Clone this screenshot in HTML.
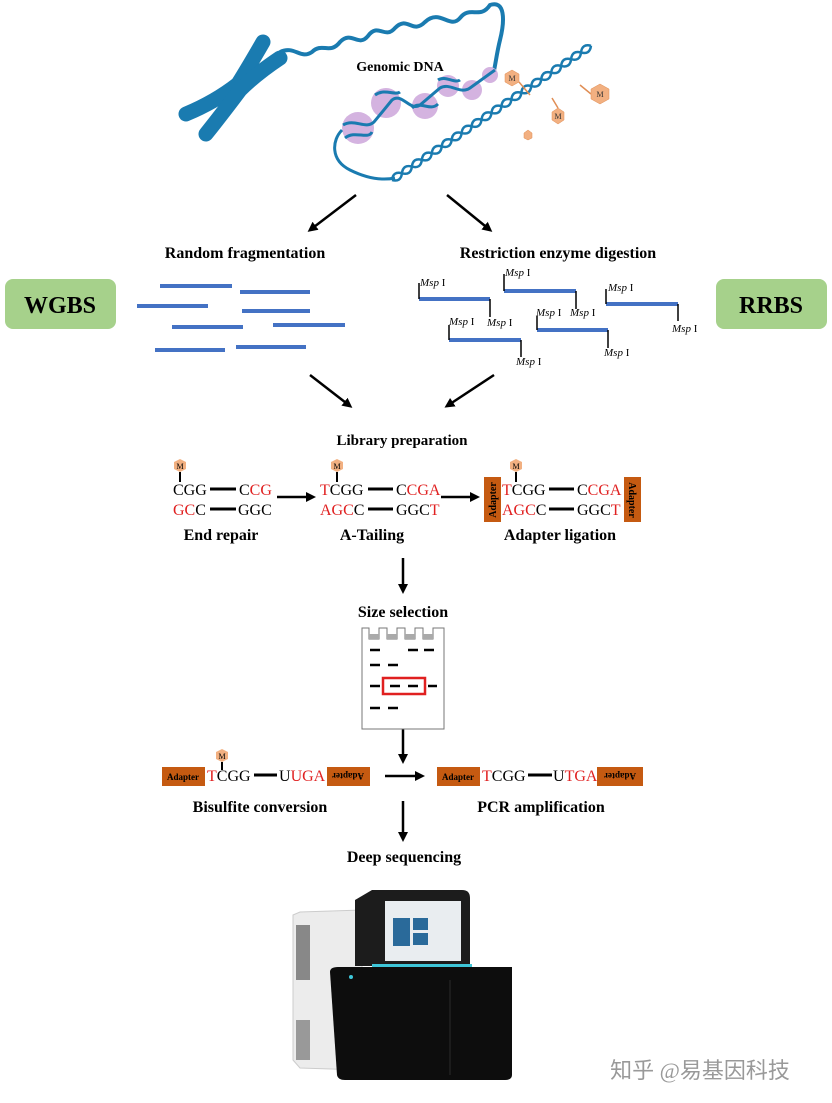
<!DOCTYPE html>
<html><head><meta charset="utf-8"><style>
html,body{margin:0;padding:0;background:#fff;}
svg{display:block;}
text{font-family:"Liberation Serif",serif;}
.b{font-weight:bold;}
</style></head><body>
<svg width="832" height="1103" viewBox="0 0 832 1103" xmlns="http://www.w3.org/2000/svg">
<defs>
<marker id="ah" markerWidth="10" markerHeight="10" refX="7" refY="5" orient="auto" markerUnits="userSpaceOnUse"><path d="M0,0 L10,5 L0,10 Z" fill="#000"/></marker>
</defs>
<!-- chromosome -->
<g fill="none" stroke="#1a7bb0" stroke-linecap="round">
<path d="M263,42 Q248,68 238,84 Q215,102 186,114" stroke-width="15"/>
<path d="M280,58 Q256,74 240,90 Q222,114 206,134" stroke-width="15"/>
</g>
<!-- DNA fiber -->
<path d="M280,52 C295,45 300,60 312,52 C322,42 330,55 340,42 C352,30 358,48 368,36 C378,22 385,40 395,28 C408,15 412,35 425,22 C440,8 450,30 460,18 C470,5 480,20 490,5 C505,0 505,20 500,40 C495,60 495,75 490,80" fill="none" stroke="#1a7bb0" stroke-width="4"/>
<!-- nucleosomes -->
<g fill="#d4b3e0">
<circle cx="358" cy="128" r="16"/><circle cx="386" cy="103" r="15"/><circle cx="425" cy="106" r="13"/>
<circle cx="448" cy="86" r="11"/><circle cx="472" cy="90" r="10"/><circle cx="490" cy="75" r="8"/>
</g>
<g fill="none" stroke="#1a7bb0" stroke-width="3">
<path d="M343,125 C355,118 365,130 374,122 L392,100 C402,92 410,112 420,105 L440,88 C450,82 460,95 470,88 L495,70"/>
<path d="M345,138 C355,130 368,140 372,132 M375,95 C385,88 395,96 400,92 M412,108 C420,100 430,112 438,104 M438,80 C445,75 455,84 460,80"/>
<path d="M342,130 C332,140 330,160 350,170 C370,180 385,180 395,178"/>
</g>
<!-- double helix -->
<g fill="none" stroke="#1a7bb0" stroke-width="2.5" transform="translate(392,180) rotate(-34)">
<path d="M0,0 Q6,-7 12,0 T24,0 T36,0 T48,0 T60,0 T72,0 T84,0 T96,0 T108,0 T120,0 T132,0 T144,0 T156,0 T168,0 T180,0 T192,0 T204,0 T216,0 T228,0 T240,0"/>
<path d="M0,0 Q6,7 12,0 T24,0 T36,0 T48,0 T60,0 T72,0 T84,0 T96,0 T108,0 T120,0 T132,0 T144,0 T156,0 T168,0 T180,0 T192,0 T204,0 T216,0 T228,0 T240,0"/>
</g>
<g stroke="#e08e55" stroke-width="1.5"><line x1="519" y1="82" x2="530" y2="95"/><line x1="591" y1="94" x2="580" y2="85"/><line x1="558" y1="108" x2="552" y2="98"/></g>
<g fill="#f2b081" stroke="#e08e55" stroke-width="0.5">
<polygon points="512,70 519,74 519,82 512,86 505,82 505,74"/>
<polygon points="600,84 609,89 609,99 600,104 591,99 591,89"/>
<polygon points="558,108 564,112 564,120 558,124 552,120 552,112"/>
<polygon points="528,130 532,133 532,138 528,140 524,138 524,133"/>
</g>
<g font-size="8" fill="#333" text-anchor="middle"><text x="512" y="81">M</text><text x="600" y="97">M</text><text x="558" y="119">M</text></g>
<text x="400" y="71" class="b" font-size="14" text-anchor="middle">Genomic DNA</text>
<!-- arrows -->
<g stroke="#000" stroke-width="2.5" marker-end="url(#ah)">
<line x1="356" y1="195" x2="310" y2="230"/><line x1="447" y1="195" x2="490" y2="230"/>
<line x1="310" y1="375" x2="350" y2="406"/><line x1="494" y1="375" x2="447" y2="406"/>
<line x1="277" y1="497" x2="313" y2="497"/><line x1="441" y1="497" x2="477" y2="497"/>
<line x1="403" y1="558" x2="403" y2="591"/><line x1="403" y1="697" x2="403" y2="761"/>
<line x1="385" y1="776" x2="422" y2="776"/><line x1="403" y1="801" x2="403" y2="839"/>
</g>
<text x="245" y="258" class="b" font-size="16" text-anchor="middle">Random fragmentation</text>
<text x="558" y="258" class="b" font-size="16" text-anchor="middle">Restriction enzyme digestion</text>
<!-- WGBS / RRBS -->
<rect x="5" y="279" width="111" height="50" rx="8" fill="#a6d18b"/>
<rect x="716" y="279" width="111" height="50" rx="8" fill="#a6d18b"/>
<text x="60" y="313" class="b" font-size="24" text-anchor="middle">WGBS</text>
<text x="771" y="313" class="b" font-size="24" text-anchor="middle">RRBS</text>
<!-- random fragments -->
<g stroke="#4472c4" stroke-width="4">
<line x1="160" y1="286" x2="232" y2="286"/><line x1="240" y1="292" x2="310" y2="292"/>
<line x1="137" y1="306" x2="208" y2="306"/><line x1="242" y1="311" x2="310" y2="311"/>
<line x1="172" y1="327" x2="243" y2="327"/><line x1="273" y1="325" x2="345" y2="325"/>
<line x1="155" y1="350" x2="225" y2="350"/><line x1="236" y1="347" x2="306" y2="347"/>
</g>
<!-- Msp fragments -->
<g stroke="#4472c4" stroke-width="4">
<line x1="419" y1="299" x2="490" y2="299"/><line x1="504" y1="291" x2="576" y2="291"/>
<line x1="606" y1="304" x2="678" y2="304"/><line x1="449" y1="340" x2="521" y2="340"/>
<line x1="537" y1="330" x2="608" y2="330"/>
</g>
<g stroke="#000" stroke-width="1.5">
<line x1="419" y1="283" x2="419" y2="299"/><line x1="490" y1="299" x2="490" y2="317"/>
<line x1="504" y1="274" x2="504" y2="291"/><line x1="576" y1="291" x2="576" y2="309"/>
<line x1="606" y1="289" x2="606" y2="304"/><line x1="678" y1="304" x2="678" y2="321"/>
<line x1="449" y1="325" x2="449" y2="340"/><line x1="521" y1="340" x2="521" y2="357"/>
<line x1="537" y1="316" x2="537" y2="330"/><line x1="608" y1="330" x2="608" y2="348"/>
</g>
<g font-size="11">
<text x="420" y="286"><tspan font-style="italic">Msp</tspan> I</text>
<text x="505" y="276"><tspan font-style="italic">Msp</tspan> I</text>
<text x="608" y="291"><tspan font-style="italic">Msp</tspan> I</text>
<text x="449" y="325"><tspan font-style="italic">Msp</tspan> I</text>
<text x="487" y="326"><tspan font-style="italic">Msp</tspan> I</text>
<text x="536" y="316"><tspan font-style="italic">Msp</tspan> I</text>
<text x="570" y="316"><tspan font-style="italic">Msp</tspan> I</text>
<text x="672" y="332"><tspan font-style="italic">Msp</tspan> I</text>
<text x="604" y="356"><tspan font-style="italic">Msp</tspan> I</text>
<text x="516" y="365"><tspan font-style="italic">Msp</tspan> I</text>
</g>
<text x="402" y="445" class="b" font-size="15" text-anchor="middle">Library preparation</text>
<!-- library prep -->
<g fill="#f2b081">
<polygon points="180,459 186,462 186,469 180,472 174,469 174,462"/>
<polygon points="337,459 343,462 343,469 337,472 331,469 331,462"/>
<polygon points="516,459 522,462 522,469 516,472 510,469 510,462"/>
</g>
<g font-size="8" text-anchor="middle"><text x="180" y="469">M</text><text x="337" y="469">M</text><text x="516" y="469">M</text></g>
<g stroke="#000" stroke-width="2">
<line x1="180" y1="472" x2="180" y2="482"/><line x1="337" y1="472" x2="337" y2="482"/><line x1="516" y1="472" x2="516" y2="482"/>
</g>
<g stroke="#000" stroke-width="3">
<line x1="210" y1="489" x2="236" y2="489"/><line x1="210" y1="509" x2="236" y2="509"/>
<line x1="368" y1="489" x2="393" y2="489"/><line x1="368" y1="509" x2="393" y2="509"/>
<line x1="549" y1="489" x2="574" y2="489"/><line x1="549" y1="509" x2="574" y2="509"/>
</g>
<g font-size="16">
<text x="173" y="495">CGG</text><text x="239" y="495">C<tspan fill="#e02020">CG</tspan></text>
<text x="173" y="515"><tspan fill="#e02020">GC</tspan>C</text><text x="238" y="515">GGC</text>
<text x="320" y="495"><tspan fill="#e02020">T</tspan>CGG</text><text x="396" y="495">C<tspan fill="#e02020">CGA</tspan></text>
<text x="320" y="515"><tspan fill="#e02020">AGC</tspan>C</text><text x="396" y="515">GGC<tspan fill="#e02020">T</tspan></text>
<text x="502" y="495"><tspan fill="#e02020">T</tspan>CGG</text><text x="577" y="495">C<tspan fill="#e02020">CGA</tspan></text>
<text x="502" y="515"><tspan fill="#e02020">AGC</tspan>C</text><text x="577" y="515">GGC<tspan fill="#e02020">T</tspan></text>
</g>
<rect x="484" y="477" width="17" height="45" fill="#c55a11"/>
<rect x="624" y="477" width="17" height="45" fill="#c55a11"/>
<text transform="translate(496,500) rotate(-90)" font-size="10" class="b" text-anchor="middle">Adapter</text>
<text transform="translate(629,500) rotate(90)" font-size="10" class="b" text-anchor="middle">Adapter</text>
<g class="b" font-size="16" text-anchor="middle">
<text x="221" y="540">End repair</text><text x="372" y="540">A-Tailing</text><text x="560" y="540">Adapter ligation</text>
<text x="403" y="617">Size selection</text>
<text x="260" y="812">Bisulfite conversion</text><text x="541" y="812">PCR amplification</text>
<text x="404" y="862">Deep sequencing</text>
</g>
<!-- gel -->
<path d="M362,729 L362,628 L369,628 L369,639 L379,639 L379,628 L387,628 L387,639 L397,639 L397,628 L405,628 L405,639 L415,639 L415,628 L423,628 L423,639 L433,639 L433,628 L444,628 L444,729 Z" fill="#fff" stroke="#777" stroke-width="1"/>
<g fill="#aaa"><rect x="369" y="634" width="10" height="5"/><rect x="387" y="634" width="10" height="5"/><rect x="405" y="634" width="10" height="5"/><rect x="423" y="634" width="10" height="5"/></g>
<g stroke="#000" stroke-width="2.5">
<line x1="370" y1="650" x2="380" y2="650"/><line x1="408" y1="650" x2="418" y2="650"/><line x1="424" y1="650" x2="434" y2="650"/>
<line x1="370" y1="665" x2="380" y2="665"/><line x1="388" y1="665" x2="398" y2="665"/>
<line x1="370" y1="686" x2="380" y2="686"/><line x1="390" y1="686" x2="400" y2="686"/><line x1="408" y1="686" x2="418" y2="686"/><line x1="428" y1="686" x2="437" y2="686"/>
<line x1="370" y1="708" x2="380" y2="708"/><line x1="388" y1="708" x2="398" y2="708"/>
</g>
<rect x="383" y="678" width="42" height="16" fill="none" stroke="#e02020" stroke-width="2.5"/>
<!-- bisulfite / pcr -->
<polygon points="222,749 228,752 228,759 222,762 216,759 216,752" fill="#f2b081"/>
<text x="222" y="759" font-size="8" text-anchor="middle">M</text>
<line x1="222" y1="762" x2="222" y2="770" stroke="#000" stroke-width="2"/>
<rect x="162" y="767" width="43" height="19" fill="#c55a11"/>
<rect x="327" y="767" width="43" height="19" fill="#c55a11"/>
<rect x="437" y="767" width="43" height="19" fill="#c55a11"/>
<rect x="597" y="767" width="46" height="19" fill="#c55a11"/>
<g font-size="9" class="b" text-anchor="middle">
<text x="183" y="780">Adapter</text><text x="458" y="780">Adapter</text>
<text transform="translate(348,773) rotate(180)">Adapter</text>
<text transform="translate(620,773) rotate(180)">Adapter</text>
</g>
<g stroke="#000" stroke-width="3"><line x1="254" y1="775" x2="277" y2="775"/><line x1="528" y1="775" x2="552" y2="775"/></g>
<g font-size="16">
<text x="207" y="781"><tspan fill="#e02020">T</tspan>CGG</text><text x="279" y="781">U<tspan fill="#e02020">UGA</tspan></text>
<text x="482" y="781"><tspan fill="#e02020">T</tspan>CGG</text><text x="553" y="781">U<tspan fill="#e02020">TGA</tspan></text>
</g>
<!-- sequencer -->
<path d="M293,915 L300,912 L362,910 L362,1070 L300,1068 L293,1060 Z" fill="#ececec" stroke="#ccc"/>
<rect x="296" y="925" width="14" height="55" fill="#888"/>
<rect x="296" y="1020" width="14" height="40" fill="#999"/>
<path d="M355,900 L372,890 L462,890 Q470,890 470,898 L470,966 L355,966 Z" fill="#1c1c1c"/>
<rect x="385" y="901" width="76" height="60" fill="#e9edf0"/>
<rect x="393" y="918" width="17" height="28" fill="#2a6a9a"/><rect x="413" y="918" width="15" height="12" fill="#2a6a9a"/><rect x="413" y="933" width="15" height="12" fill="#2a6a9a"/>
<rect x="372" y="964" width="100" height="3" fill="#3ec6d8"/>
<path d="M330,972 Q330,967 338,967 L512,967 L512,1075 Q512,1080 505,1080 L345,1080 Q338,1080 337,1075 Z" fill="#0d0d0d"/>
<line x1="450" y1="980" x2="450" y2="1075" stroke="#2a2a2a"/>
<circle cx="351" cy="977" r="2" fill="#3ec6d8"/>
<text x="700" y="1078" font-family="'Liberation Sans','Noto Sans CJK SC',sans-serif" font-size="22" fill="#999" text-anchor="middle">知乎 @易基因科技</text>
</svg>
</body></html>
